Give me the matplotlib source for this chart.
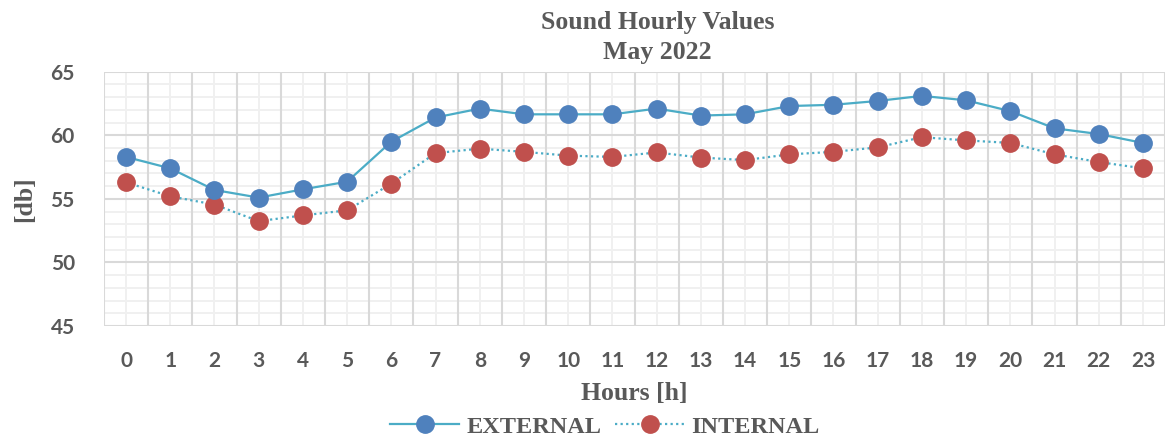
import matplotlib
matplotlib.use("Agg")
import matplotlib.pyplot as plt
from matplotlib.ticker import MultipleLocator

hours = list(range(24))
hour_labels = [str(h) for h in hours]
external = [58.3, 57.4, 55.7, 55.1, 55.75, 56.35, 59.5, 61.4, 62.1, 61.65, 61.65, 61.65,
            62.1, 61.55, 61.65, 62.3, 62.4, 62.7, 63.1, 62.75, 61.9, 60.55, 60.1, 59.4]
internal = [56.3, 55.2, 54.55, 53.25, 53.7, 54.1, 56.2, 58.6, 58.95, 58.7, 58.4, 58.3,
            58.65, 58.25, 58.05, 58.5, 58.7, 59.05, 59.85, 59.6, 59.4, 58.5, 57.9, 57.4]
y_ticks = [45, 50, 55, 60, 65]

TEXT = "#595959"
LINE = "#4BACC6"
BLUE = "#4F81BD"
RED = "#C0504D"
serif = ["Liberation Serif", "DejaVu Serif"]
sans = ["Lato", "DejaVu Sans"]

fig = plt.figure(figsize=(11.68, 4.4), dpi=100)
ax = fig.add_axes([0.089, 0.259, 0.9085, 0.578])

ax.plot(hours, external, color=LINE, lw=1.6, ls="-", marker="o", ms=12.5,
        mfc=BLUE, mec=BLUE, label="EXTERNAL", zorder=4)
ax.plot(hours, internal, color=LINE, lw=1.6, ls=(0, (1, 1.5)), marker="o", ms=12.5,
        mfc=RED, mec=RED, label="INTERNAL", zorder=3)

ax.set_xlim(-0.5, 23.5)
ax.set_ylim(45, 65)
ax.set_xticks(hours)
ax.set_xticklabels(hour_labels)
ax.set_yticks(y_ticks)
ax.yaxis.set_minor_locator(MultipleLocator(1))

# gridlines: major on category boundaries / 5 dB, minor on category centres / 1 dB
for y in range(45, 66):
    if y % 5 == 0:
        ax.axhline(y, color="#D9D9D9", lw=1.5, zorder=1)
    else:
        ax.axhline(y, color="#F0F0F0", lw=1.4, zorder=0.5)
for h in hours:
    ax.axvline(h, color="#F0F0F0", lw=1.4, zorder=0.5)
for b in [h - 0.5 for h in hours] + [23.5]:
    ax.axvline(b, color="#D9D9D9", lw=1.5, zorder=1)

for s in ax.spines.values():
    s.set_visible(False)
ax.tick_params(axis="both", which="both", length=0)
ax.tick_params(axis="x", pad=18)
ax.tick_params(axis="y", pad=21)
for lab in ax.get_xticklabels() + ax.get_yticklabels():
    lab.set_fontfamily(sans)
    lab.set_fontweight("bold")
    lab.set_fontsize(15)
    lab.set_color(TEXT)

ax.set_xlabel("Hours [h]", fontfamily=serif, fontweight="bold", fontsize=18.5,
              color=TEXT, labelpad=8)
ax.yaxis.set_label_coords(-0.064, 0.5)
ax.set_ylabel("[db]", fontfamily=serif, fontweight="bold", fontsize=18.5,
              color=TEXT)

fig.text(0.563, 1 - 23 / 440, "Sound Hourly Values", ha="center", va="center",
         fontfamily=serif, fontweight="bold", fontsize=18.5, color=TEXT)
fig.text(0.563, 1 - 53 / 440, "May 2022", ha="center", va="center",
         fontfamily=serif, fontweight="bold", fontsize=18.5, color=TEXT)

leg = fig.legend(loc="center", bbox_to_anchor=(0.518, 0.03), ncol=2, frameon=False,
                 prop={"family": serif, "weight": "bold", "size": 17.5},
                 handlelength=2.85, columnspacing=0.55, handletextpad=0.3)
for t in leg.get_texts():
    t.set_color(TEXT)

fig.savefig("out.png", dpi=100)
